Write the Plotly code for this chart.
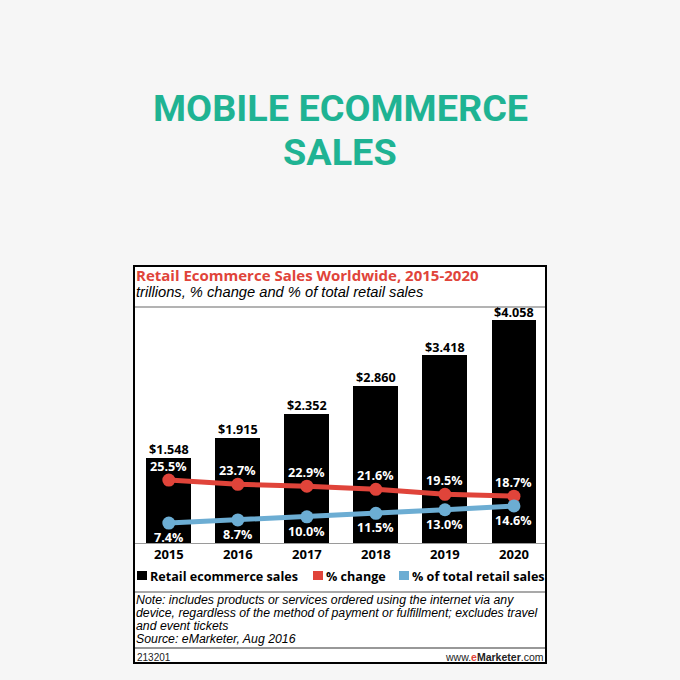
import plotly.graph_objects as go

# datos del grafico
years = ["2015", "2016", "2017", "2018", "2019", "2020"]
sales = [1.548, 1.915, 2.352, 2.860, 3.418, 4.058]
pct_change = [25.5, 23.7, 22.9, 21.6, 19.5, 18.7]
pct_total = [7.4, 8.7, 10.0, 11.5, 13.0, 14.6]

W, H = 680, 680
RED = "#e0443a"
BLUE = "#6cadd3"
TEAL = "#1fb393"
BG = "#f6f6f6"
BOLD = "Open Sans"
NOTE = "Liberation Sans"


def px(x):
    return x / W


def py(y):
    return 1 - y / H


def label(x, y, text, size, color="black", family=NOTE, anchor="left", **kw):
    # texto fijo en coordenadas de pixel
    return dict(x=px(x), y=py(y), xref="paper", yref="paper", text=text,
                showarrow=False, xanchor=anchor, yanchor="middle", borderpad=0,
                font=dict(family=family, size=size, color=color, **kw))


def value_label(i, y, text, yref, shift, color):
    # etiqueta pegada a un dato; en eje de categorias x es el indice
    return dict(x=i, y=y, xref="x", yref=yref, text=text, showarrow=False,
                xanchor="center", yanchor="middle", yshift=shift, borderpad=0,
                font=dict(family=BOLD, size=12.6, color=color, weight="bold"))


fig = go.Figure()

fig.add_trace(go.Bar(
    x=years, y=sales,
    marker=dict(color="black", line=dict(width=0)),
    width=0.65,
    showlegend=False,
    hoverinfo="skip",
))

fig.add_trace(go.Scatter(
    x=years, y=pct_change, yaxis="y2",
    mode="lines+markers",
    line=dict(color=RED, width=5),
    marker=dict(color=RED, size=13),
    showlegend=False,
))

fig.add_trace(go.Scatter(
    x=years, y=pct_total, yaxis="y2",
    mode="lines+markers",
    line=dict(color=BLUE, width=5),
    marker=dict(color=BLUE, size=13),
    showlegend=False,
))

annotations = []
for i, v in enumerate(sales):
    annotations.append(value_label(i, v, f"${v:.3f}", "y", 8, "black"))
for i, v in enumerate(pct_change):
    annotations.append(value_label(i, v, f"{v:.1f}%", "y2", 14, "white"))
for i, v in enumerate(pct_total):
    annotations.append(value_label(i, v, f"{v:.1f}%", "y2", -14.5, "white"))

shapes = [
    # caja blanca del grafico
    dict(type="rect", xref="paper", yref="paper", layer="below",
         x0=px(134), x1=px(546), y0=py(663), y1=py(266),
         fillcolor="white", line=dict(color="black", width=2)),
    dict(type="line", xref="paper", yref="paper", layer="below",
         x0=px(135), x1=px(545), y0=py(307), y1=py(307),
         line=dict(color="#9a9a9a", width=1.5)),
    dict(type="line", xref="paper", yref="paper",
         x0=px(135), x1=px(545), y0=py(592), y1=py(592),
         line=dict(color="#555555", width=1.2)),
    dict(type="line", xref="paper", yref="paper",
         x0=px(135), x1=px(545), y0=py(648), y1=py(648),
         line=dict(color="#333333", width=1.2)),
]

# leyenda hecha a mano
legend_items = [(137, "black", "Retail ecommerce sales"),
                (313, RED, "% change"),
                (399, BLUE, "% of total retail sales")]
for x0, col, name in legend_items:
    shapes.append(dict(type="rect", xref="paper", yref="paper",
                       x0=px(x0), x1=px(x0 + 10), y0=py(580), y1=py(571),
                       fillcolor=col, line=dict(width=0)))
    annotations.append(label(x0 + 12, 576, name, 12.6, family=BOLD, weight="bold"))

annotations += [
    label(340, 108, "MOBILE ECOMMERCE", 37.8, TEAL, "Roboto", "center", weight="bold"),
    label(340, 152, "SALES", 37.8, TEAL, "Roboto", "center", weight="bold"),
    label(135, 275, "Retail Ecommerce Sales Worldwide, 2015-2020", 15, RED, BOLD, weight="bold"),
    label(135, 292, "<i>trillions, % change and % of total retail sales</i>", 14.7),
]

note_lines = [
    "Note: includes products or services ordered using the internet via any",
    "device, regardless of the method of payment or fulfillment; excludes travel",
    "and event tickets",
    "Source: eMarketer, Aug 2016",
]
for i, line in enumerate(note_lines):
    annotations.append(label(135, 600 + i * 12.9, f"<i>{line}</i>", 12.3))

annotations += [
    label(136, 657, "213201", 10, "#222"),
    label(545, 657, "www.<b><span style='color:" + RED + "'>e</span>Marketer</b>.com",
          10.5, "#222", anchor="right"),
]

fig.update_layout(
    width=W, height=H,
    margin=dict(l=0, r=0, t=0, b=0),
    paper_bgcolor=BG,
    plot_bgcolor="white",
    xaxis=dict(domain=[px(135), px(545)], type="category", range=[-0.49, 5.45],
               showgrid=False, showline=True, linecolor="#9a9a9a", linewidth=1,
               ticks="", tickfont=dict(family=BOLD, size=13, color="black", weight="bold"),
               ticklabelstandoff=-1, fixedrange=True),
    yaxis=dict(domain=[py(543), py(308)], range=[0, 4.277], visible=False,
               showgrid=False),
    yaxis2=dict(overlaying="y", range=[-1.0, 97.9], visible=False, showgrid=False),
    shapes=shapes,
    annotations=annotations,
    bargap=0,
)

fig.write_html("out.html",
               config={"displayModeBar": False},
               post_script="document.body.style.margin='0';"
                           "document.body.style.background='" + BG + "';")
